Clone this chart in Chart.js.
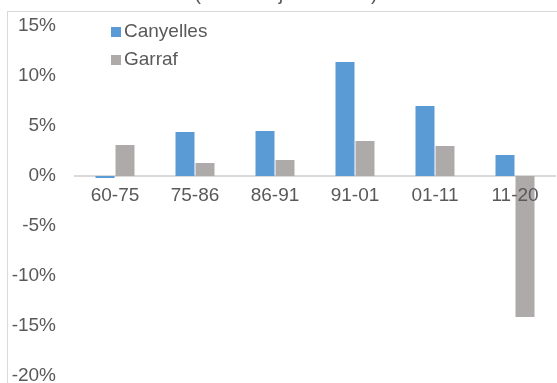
<!DOCTYPE html>
<html>
<head>
<meta charset="utf-8">
<script src="https://cdn.jsdelivr.net/npm/chart.js@4/dist/chart.umd.min.js"></script>
<style>
  html, body { margin: 0; padding: 0; background: #fff; }
  #wrap { position: relative; width: 557px; height: 383px; overflow: hidden; }
  #frame { position: absolute; left: 7px; top: 11px; width: 600px; height: 400px; border: 1px solid #d9d9d9; }
  canvas { position: absolute; left: 0; top: 0; }
</style>
</head>
<body>
<div id="wrap">
  <div id="frame"></div>
  <canvas id="chart" width="557" height="383"></canvas>
</div>
<script>
// dades (% de mitjana anual)
const periods = ['60-75', '75-86', '86-91', '91-01', '01-11', '11-20'];
const canyelles = [-0.2, 4.4, 4.5, 11.4, 7.0, 2.1];
const garraf = [3.1, 1.3, 1.6, 3.5, 3.0, -14.1];
const yTicks = [15, 10, 5, 0, -5, -10, -15, -20];

const titleText = '(% de mitjana anual)';
const FONT = '"Liberation Sans", Arial, sans-serif';

// títol (tallat a dalt) i llegenda dins l'àrea del gràfic
const extras = {
    id: 'extras',
    afterDraw(chart) {
        const ctx = chart.ctx;
        ctx.save();
        ctx.fillStyle = '#595959';
        ctx.font = '20px ' + FONT;
        ctx.textAlign = 'center';
        ctx.textBaseline = 'alphabetic';
        ctx.fillText(titleText, 286, 0);

        const items = [
            { label: 'Canyelles', color: '#5B9BD5', y: 32 },
            { label: 'Garraf', color: '#AEAAAA', y: 60 }
        ];
        ctx.font = '19px ' + FONT;
        ctx.textAlign = 'left';
        ctx.textBaseline = 'middle';
        items.forEach(it => {
            ctx.fillStyle = it.color;
            ctx.fillRect(111, it.y - 5, 10, 10);
            ctx.fillStyle = '#595959';
            ctx.fillText(it.label, 124, it.y);
        });
        ctx.restore();
    }
};

new Chart(document.getElementById('chart'), {
    type: 'bar',
    data: {
        labels: periods,
        datasets: [
            { label: 'Canyelles', data: canyelles, backgroundColor: '#5B9BD5' },
            { label: 'Garraf', data: garraf, backgroundColor: '#AEAAAA' }
        ]
    },
    options: {
        responsive: false,
        animation: false,
        events: [],
        layout: { padding: { top: 26, bottom: 7, left: 0, right: 2 } },
        datasets: { bar: { categoryPercentage: 0.5, barPercentage: 0.95 } },
        scales: {
            x: {
                position: { y: 0 },
                afterFit: scale => { scale.height = 0; },
                grid: { display: false, drawTicks: false },
                border: { display: true, color: '#d9d9d9', width: 2 },
                // z: 1 -> etiquetes per sobre de les barres
                ticks: { z: 1, color: '#595959', font: { size: 19, family: FONT }, padding: 8, maxRotation: 0 }
            },
            y: {
                min: -20,
                max: 15,
                afterBuildTicks: scale => { scale.ticks = yTicks.map(v => ({ value: v })); },
                afterFit: scale => { scale.width = 75; },
                // tickLength desplaça les etiquetes sense afegir farciment vertical
                grid: { display: false, drawTicks: true, tickLength: 19 },
                border: { display: false },
                ticks: {
                    color: '#595959',
                    font: { size: 19, family: FONT, lineHeight: 0.6 },
                    padding: 0,
                    callback: v => v + '%'
                }
            }
        },
        plugins: { legend: { display: false }, tooltip: { enabled: false } }
    },
    plugins: [extras]
});
</script>
</body>
</html>
